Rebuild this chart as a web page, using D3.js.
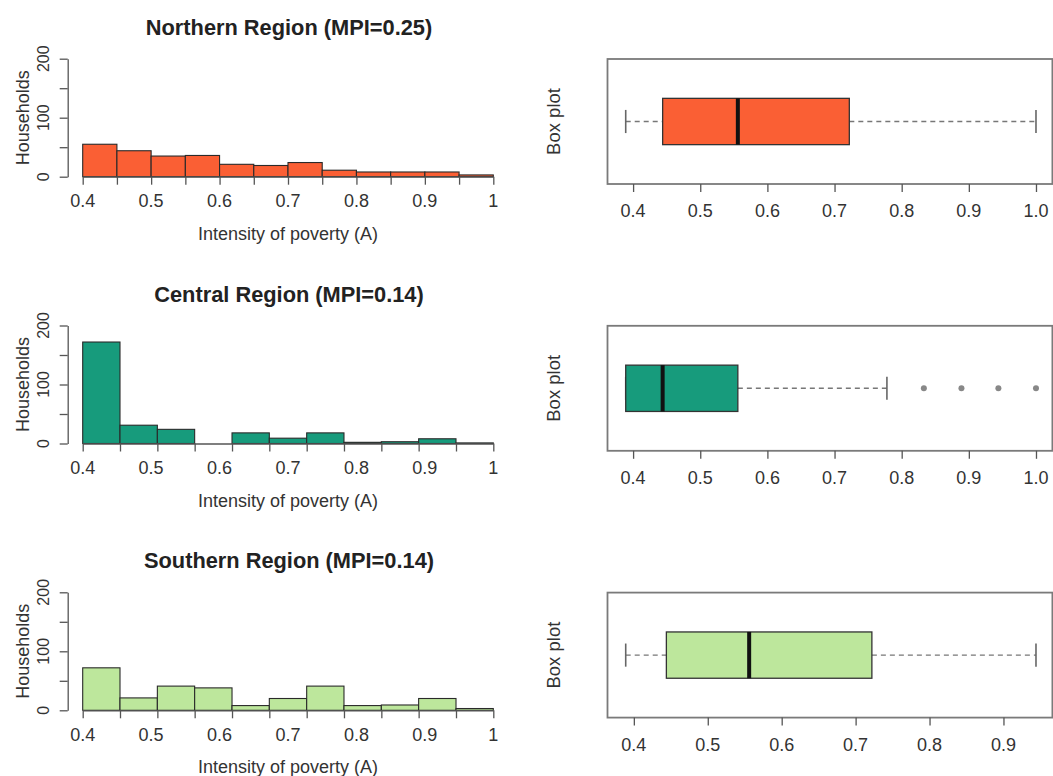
<!DOCTYPE html>
<html>
<head>
<meta charset="utf-8">
<script src="https://cdn.jsdelivr.net/npm/d3@7"></script>
<style>
  body { margin: 0; background: #fff; }
  svg { display: block; font-family: "Liberation Sans", Arial, sans-serif; }
  .axis path, .axis line { stroke: #555; stroke-width: 1.3; }
  .axis text { display: none; }
</style>
</head>
<body>
<svg id="chart" width="1053" height="776"></svg>
<script>
// ---- data ----
const regions = ['Northern Region', 'Central Region', 'Southern Region']
const mpi = [0.25, 0.14, 0.14]
const colors = ['#fa5f34', '#179b7c', '#bde79c']

const northBreaks = [0.4, 0.45, 0.5, 0.55, 0.6, 0.65, 0.7, 0.75, 0.8, 0.85, 0.9, 0.95, 1.0]
const northCounts = [55, 44, 35, 36, 21, 19, 24, 11, 8, 8, 8, 3]
const centralBreaks = [0.4, 0.4545, 0.5091, 0.5636, 0.6182, 0.6727, 0.7273, 0.7818, 0.8364, 0.8909, 0.9455, 1.0]
const centralCounts = [172, 31, 24, 0, 18, 9, 18, 2, 3, 8, 1]
const southBreaks = [0.4, 0.4545, 0.5091, 0.5636, 0.6182, 0.6727, 0.7273, 0.7818, 0.8364, 0.8909, 0.9455, 1.0]
const southCounts = [72, 21, 41, 38, 8, 20, 41, 8, 9, 20, 3]

// box stats: lower whisker, q1, median, q3, upper whisker
const northBox = [0.389, 0.444, 0.556, 0.722, 1.0]
const centralBox = [0.389, 0.389, 0.444, 0.556, 0.778]
const southBox = [0.389, 0.444, 0.556, 0.722, 0.944]
const northOut = []
const centralOut = [0.833, 0.889, 0.944, 1.0]
const southOut = []

const histXTicks = [0.4, 0.5, 0.6, 0.7, 0.8, 0.9, 1.0]
const histYTicks = [0, 50, 100, 150, 200]
const histYLabels = [0, 100, 200]
const boxTicks = [[0.4, 0.5, 0.6, 0.7, 0.8, 0.9, 1.0], [0.4, 0.5, 0.6, 0.7, 0.8, 0.9, 1.0], [0.4, 0.5, 0.6, 0.7, 0.8, 0.9]]

const panels = [
  {breaks: northBreaks, counts: northCounts, box: northBox, out: northOut},
  {breaks: centralBreaks, counts: centralCounts, box: centralBox, out: centralOut},
  {breaks: southBreaks, counts: southCounts, box: southBox, out: southOut},
]

// ---- layout ----
const svg = d3.select('#chart')
const pitch = 266.8
const hist = {left: 82.7, right: 493.3, base: 176.7, h: 118}
const boxL = {left: 607.5, right: 1052.4, top: 59, h: 125}
const textCol = '#333'

const histX = d3.scaleLinear().domain([0.4, 1.0]).range([hist.left, hist.right])

panels.forEach((p, i) => {
  const g = svg.append('g')
  const base = hist.base + i * pitch
  const y = d3.scaleLinear().domain([0, 200]).range([base, base - hist.h])

  // title
  g.append('text')
    .attr('x', 289).attr('y', 34.7 + i * pitch)
    .attr('text-anchor', 'middle')
    .attr('font-size', 21.8).attr('font-weight', 'bold').attr('fill', '#222')
    .text(`${regions[i]} (MPI=${mpi[i].toFixed(2)})`)

  // histogram bars
  const bins = p.counts.map((c, k) => ({x0: p.breaks[k], x1: p.breaks[k + 1], n: c}))
  g.selectAll('rect.bar').data(bins.filter(b => b.n > 0)).join('rect')
    .attr('class', 'bar')
    .attr('x', d => histX(d.x0))
    .attr('width', d => histX(d.x1) - histX(d.x0))
    .attr('y', d => y(d.n))
    .attr('height', d => y(0) - y(d.n))
    .attr('fill', colors[i])
    .attr('stroke', '#2a2a2a').attr('stroke-width', 1.1)

  // x axis: ticks at the breaks, labels every 0.1
  g.append('g').attr('class', 'axis')
    .attr('transform', `translate(0,${base})`)
    .call(d3.axisBottom(histX).tickValues(p.breaks).tickSize(8).tickSizeOuter(0))
  g.selectAll('text.xl').data(histXTicks).join('text')
    .attr('class', 'xl')
    .attr('x', d => histX(d)).attr('y', base + 30.5)
    .attr('text-anchor', 'middle').attr('font-size', 18).attr('fill', textCol)
    .text(d => d3.format('~g')(d))
  g.append('text')
    .attr('x', 288).attr('y', base + 63)
    .attr('text-anchor', 'middle').attr('font-size', 18).attr('fill', textCol)
    .text('Intensity of poverty (A)')

  // y axis
  g.append('g').attr('class', 'axis')
    .attr('transform', `translate(67.7,0)`)
    .call(d3.axisLeft(y).tickValues(histYTicks).tickSize(8).tickSizeOuter(0))
  g.selectAll('text.yl').data(histYLabels).join('text')
    .attr('class', 'yl')
    .attr('transform', d => `translate(49,${y(d)}) rotate(-90)`)
    .attr('text-anchor', 'middle').attr('font-size', 16).attr('fill', textCol)
    .text(d => d)
  g.append('text')
    .attr('transform', `translate(28.5,${base - hist.h / 2}) rotate(-90)`)
    .attr('text-anchor', 'middle').attr('font-size', 18).attr('fill', textCol)
    .text('Households')

  // ---- box plot ----
  const top = boxL.top + i * pitch
  const lo = d3.min([p.box[0], ...p.out]), hi = d3.max([p.box[4], ...p.out])
  const pad = (hi - lo) * 0.04
  const bx = d3.scaleLinear().domain([lo - pad, hi + pad]).range([boxL.left + 1.8, boxL.right])
  const by = d3.scaleLinear().domain([0.46, 1.54]).range([top + boxL.h, top])
  const bg = svg.append('g')

  bg.append('rect')
    .attr('x', boxL.left).attr('y', top)
    .attr('width', boxL.right - boxL.left).attr('height', boxL.h)
    .attr('fill', 'none').attr('stroke', '#7a7a7a').attr('stroke-width', 1.8)

  const [wLo, q1, med, q3, wHi] = p.box
  const cy = by(1)
  // whiskers
  bg.selectAll('line.wh').data([[wLo, q1], [q3, wHi]]).join('line')
    .attr('class', 'wh')
    .attr('x1', d => bx(d[0])).attr('x2', d => bx(d[1]))
    .attr('y1', cy).attr('y2', cy)
    .attr('stroke', '#777').attr('stroke-width', 1.4).attr('stroke-dasharray', '5,4')
  bg.selectAll('line.cap').data([wLo, wHi]).join('line')
    .attr('class', 'cap')
    .attr('x1', d => bx(d)).attr('x2', d => bx(d))
    .attr('y1', by(1.1)).attr('y2', by(0.9))
    .attr('stroke', '#666').attr('stroke-width', 1.6)
  // box
  bg.append('rect')
    .attr('x', bx(q1)).attr('width', bx(q3) - bx(q1))
    .attr('y', by(1.2)).attr('height', by(0.8) - by(1.2))
    .attr('fill', colors[i]).attr('stroke', '#333').attr('stroke-width', 1.3)
  bg.append('line')
    .attr('x1', bx(med)).attr('x2', bx(med))
    .attr('y1', by(1.2)).attr('y2', by(0.8))
    .attr('stroke', '#111').attr('stroke-width', 4)
  // outliers
  bg.selectAll('circle.out').data(p.out).join('circle')
    .attr('class', 'out')
    .attr('cx', d => bx(d)).attr('cy', cy).attr('r', 3)
    .attr('fill', '#888')

  // box x axis
  bg.append('g').attr('class', 'axis')
    .attr('transform', `translate(0,${top + boxL.h})`)
    .call(d3.axisBottom(bx).tickValues(boxTicks[i]).tickSize(8).tickSizeOuter(0))
    .select('.domain').remove()
  bg.selectAll('text.bl').data(boxTicks[i]).join('text')
    .attr('class', 'bl')
    .attr('x', d => bx(d)).attr('y', top + boxL.h + 33)
    .attr('text-anchor', 'middle').attr('font-size', 18).attr('fill', textCol)
    .text(d => d.toFixed(1))
  bg.append('text')
    .attr('transform', `translate(560,${top + boxL.h / 2}) rotate(-90)`)
    .attr('text-anchor', 'middle').attr('font-size', 18.5).attr('fill', textCol)
    .text('Box plot')
})
</script>
</body>
</html>
